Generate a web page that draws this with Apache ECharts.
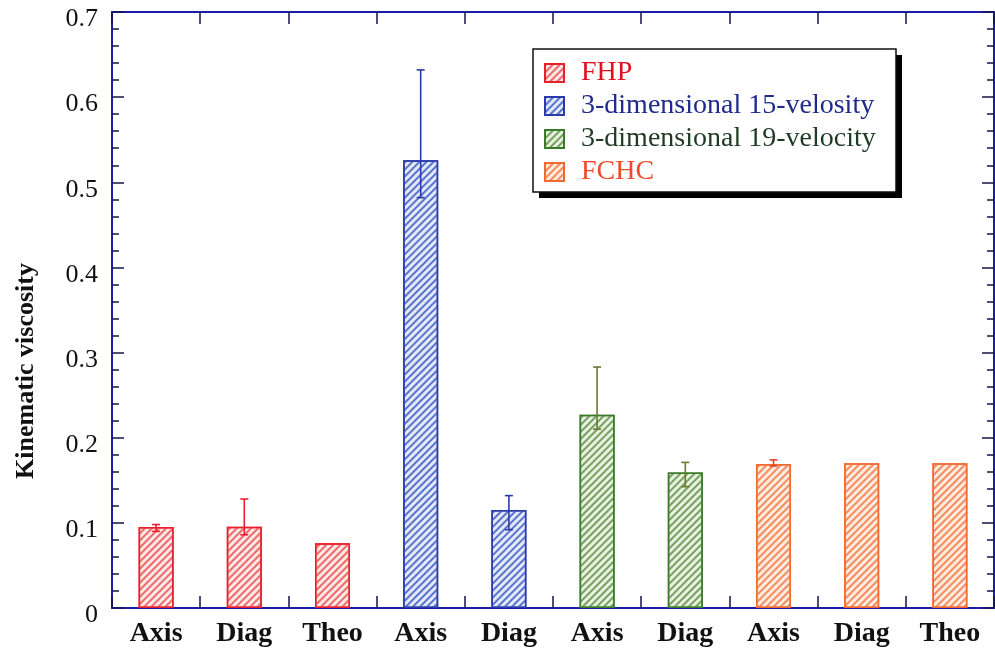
<!DOCTYPE html>
<html>
<head>
<meta charset="utf-8">
<script src="https://cdn.jsdelivr.net/npm/echarts@6/dist/echarts.min.js"></script>
<style>
html,body{margin:0;padding:0;background:#fff;}
#chart{width:995px;height:654px;}
</style>
</head>
<body>
<div id="chart"></div>
<script>
const categories = ['Axis','Diag','Theo','Axis','Diag','Axis','Diag','Axis','Diag','Theo'];
const seriesNames = ['FHP','3-dimensional 15-velosity','3-dimensional 19-velocity','FCHC'];
const fhp    = [0.095, 0.0955, 0.076, null, null, null, null, null, null, null];
const vel15  = [null, null, null, 0.526, 0.115, null, null, null, null, null];
const vel19  = [null, null, null, null, null, 0.227, 0.159, null, null, null];
const fchc   = [null, null, null, null, null, null, null, 0.169, 0.170, 0.170];
const errLow  = [0.090, 0.086, null, 0.482, 0.092, 0.210, 0.1425, 0.1668, null, null];
const errHigh = [0.098, 0.128, null, 0.632, 0.132, 0.283, 0.171, 0.174, null, null];
const errGroup = [0, 0, 0, 1, 1, 2, 2, 3, 3, 3];
const yTicks = [0, 0.1, 0.2, 0.3, 0.4, 0.5, 0.6, 0.7];

const borderColors = ['#e8202e', '#2a3aa8', '#3a7a2a', '#f06a30'];
const fillColors   = ['#fde8e8', '#e4e9f8', '#e8f1e0', '#fdebdf'];
const hatchColors  = ['#ef6a6a', '#5a76cc', '#78a060', '#f48c5c'];
const textColors   = ['#e0101e', '#1e2a8c', '#1e3a24', '#f04a2a'];
const errColors    = ['#e8202e', '#2a3aa8', '#6a7a30', '#e8402a'];

const serif = '"Liberation Serif", "DejaVu Serif", serif';
const chart = echarts.init(document.getElementById('chart'), null, {renderer: 'canvas'});

const barData = [fhp, vel15, vel19, fchc];
const barSeries = barData.map((d, i) => ({
  name: seriesNames[i],
  type: 'bar',
  xAxisIndex: 0, yAxisIndex: 0,
  data: d.map(v => v === null ? '-' : v),
  barWidth: 35,
  barGap: '-100%',
  itemStyle: {
    color: fillColors[i],
    borderColor: borderColors[i],
    borderWidth: 1.5,
    decal: {
      symbol: 'rect',
      symbolSize: 1,
      dashArrayX: [1, 0],
      dashArrayY: [1.2, 2.8],
      rotation: -Math.PI / 4,
      color: hatchColors[i]
    }
  },
  z: 2
}));

const errSeries = [0, 1, 2, 3].map(g => ({
  type: 'custom',
  name: 'err' + g,
  xAxisIndex: 0, yAxisIndex: 0,
  z: 5,
  encode: {x: 0, y: [1, 2]},
  data: categories.map((c, k) => [k, errLow[k], errHigh[k]]).filter(r => errGroup[r[0]] === g && r[1] !== null),
  renderItem: (params, api) => {
    const x = api.value(0);
    const lo = api.coord([x, api.value(1)]);
    const hi = api.coord([x, api.value(2)]);
    const hw = 4;
    const st = {stroke: errColors[g], lineWidth: 1.6};
    return {type: 'group', children: [
      {type: 'line', shape: {x1: hi[0], y1: hi[1], x2: lo[0], y2: lo[1]}, style: st},
      {type: 'line', shape: {x1: hi[0]-hw, y1: hi[1], x2: hi[0]+hw, y2: hi[1]}, style: st},
      {type: 'line', shape: {x1: lo[0]-hw, y1: lo[1], x2: lo[0]+hw, y2: lo[1]}, style: st}
    ]};
  }
}));

const axisBlue = '#1c1ca6';
const tickDark = '#141450';

const yLabel = {
  margin: 14,
  formatter: v => '{a|' + String(parseFloat(v.toFixed(1))) + '}',
  rich: {a: {color: '#111', fontFamily: serif, fontSize: 26, padding: [15, 0, 0, 0]}}
};

const option = {
  animation: false,
  backgroundColor: '#fff',
  grid: {left: 112, right: 1, top: 12, bottom: 46},
  legend: {
    orient: 'vertical',
    left: 533, top: 50,
    z: 10,
    padding: [9, 12, 8, 11],
    itemGap: 5,
    itemWidth: 19, itemHeight: 18,
    icon: 'rect',
    backgroundColor: 'transparent',
    borderWidth: 0,
    textStyle: {fontFamily: serif, fontSize: 28, padding: [0, 0, 0, 12]},
    data: seriesNames.map((n, i) => ({name: n, textStyle: {color: textColors[i]}}))
  },
  xAxis: [{
    type: 'category',
    data: categories,
    position: 'bottom',
    axisLine: {onZero: false, lineStyle: {color: axisBlue, width: 2}},
    axisTick: {show: true, inside: true, length: 12, interval: 0, lineStyle: {color: tickDark, width: 1.5}},
    axisLabel: {interval: 0, margin: 12, color: '#111', fontFamily: serif, fontWeight: 'bold', fontSize: 28},
    splitLine: {show: false}
  }, {
    type: 'category',
    data: categories,
    position: 'top',
    axisLine: {onZero: false, lineStyle: {color: axisBlue, width: 2}},
    axisTick: {show: true, inside: true, length: 12, interval: 0, lineStyle: {color: tickDark, width: 1.5}},
    axisLabel: {show: false},
    splitLine: {show: false}
  }],
  yAxis: [{
    type: 'value',
    min: yTicks[0], max: yTicks[yTicks.length - 1], interval: 0.1,
    position: 'left',
    axisLine: {show: true, onZero: false, lineStyle: {color: axisBlue, width: 2}},
    axisTick: {show: true, inside: true, length: 12, lineStyle: {color: tickDark, width: 1.5}},
    minorTick: {show: true, splitNumber: 5, length: 7, lineStyle: {color: tickDark, width: 1.5}},
    axisLabel: yLabel,
    splitLine: {show: false}
  }, {
    type: 'value',
    min: yTicks[0], max: yTicks[yTicks.length - 1], interval: 0.1,
    position: 'right',
    axisLine: {show: true, onZero: false, lineStyle: {color: axisBlue, width: 2}},
    axisTick: {show: true, inside: true, length: 12, lineStyle: {color: tickDark, width: 1.5}},
    minorTick: {show: true, splitNumber: 5, length: 7, lineStyle: {color: tickDark, width: 1.5}},
    axisLabel: {show: false},
    splitLine: {show: false}
  }],
  graphic: [{
    type: 'rect',
    z: 1,
    shape: {x: 539, y: 55, width: 363, height: 143},
    style: {fill: '#000'}
  }, {
    type: 'rect',
    z: 2,
    shape: {x: 533, y: 49, width: 363, height: 143},
    style: {fill: '#fff', stroke: '#111', lineWidth: 1.5}
  }, {
    type: 'text',
    x: 26, y: 371,
    rotation: Math.PI / 2,
    style: {
      text: 'Kinematic viscosity',
      fill: '#111',
      font: 'bold 26px ' + serif,
      align: 'center',
      verticalAlign: 'middle'
    }
  }],
  series: barSeries.concat(errSeries)
};
chart.setOption(option);
</script>
</body>
</html>
